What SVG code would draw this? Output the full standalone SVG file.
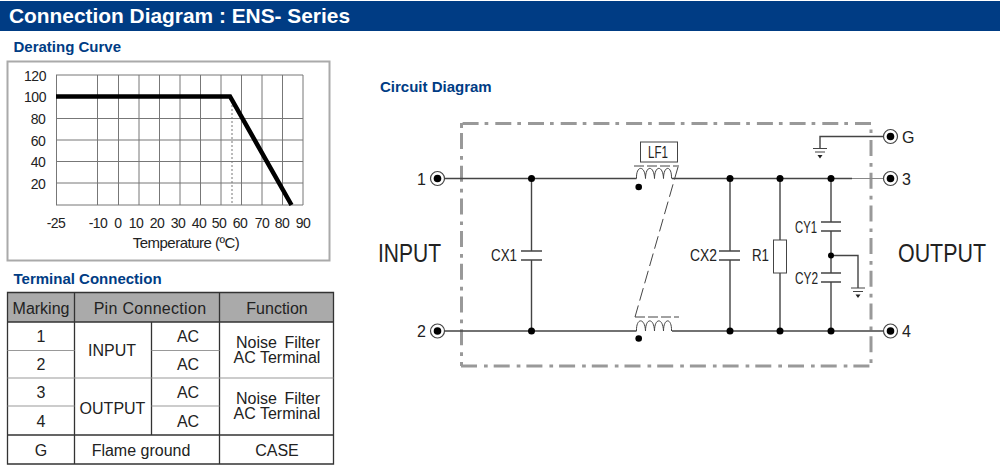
<svg xmlns="http://www.w3.org/2000/svg" width="1000" height="470" viewBox="0 0 1000 470">
<defs>
<style>
text{font-family:"Liberation Sans",Arial,sans-serif;fill:#222}
.h{fill:#003c84;font-weight:bold;font-size:15px}
.g{stroke:#777;stroke-width:1;fill:none}
.w{stroke:#444;stroke-width:1.4;fill:none}
.t{stroke:#444;stroke-width:1;fill:none}
.tb{stroke:#333;stroke-width:1.3;fill:none}
.tl{stroke:#999;stroke-width:1;fill:none}
.tx{font-size:16px;text-anchor:middle;fill:#222}
.ax{font-size:14px;text-anchor:middle;letter-spacing:-.5px}
.lb{font-size:17px}
.big{font-size:25px}
.d{fill:#000}
.en{fill:none;stroke:#999;stroke-width:3;stroke-dasharray:16 7 3.700 6}
</style>
<g id="gnd"><path d="M-7 0H7M-5 3.500H5" stroke="#444" stroke-width="1.200" fill="none"/><path d="M-2.500 6.500H2.500L0 10Z" fill="#222"/></g>
<g id="term"><circle r="7" fill="#fff" stroke="#444" stroke-width="1.200"/><circle r="3.800" fill="#000"/></g>
</defs>
<rect width="1000" height="470" fill="#fff"/>
<g id="header"><rect x="0" y="1" width="1000" height="30" fill="#003c84"/>
<text x="9" y="23" font-size="21" font-weight="bold" style="fill:#fff" textLength="341" lengthAdjust="spacingAndGlyphs">Connection Diagram : ENS- Series</text></g>
<text id="title-derating" class="h" x="13.500" y="52">Derating Curve</text>
<text id="title-terminal" class="h" x="13.500" y="284">Terminal Connection</text>
<text id="title-circuit" class="h" x="380" y="91.500">Circuit Diagram</text>

<g id="chart">
<rect x="7.500" y="61.500" width="322" height="199" fill="#fff" stroke="#aaa" stroke-width="2"/>
<path class="g" d="M56.500 75V205M97.500 75V205M118.500 75V205M139 75V205M159.500 75V205M180 75V205M200.500 75V205M221 75V205M241.500 75V205M262 75V205M282.500 75V205M303 75V205M56 75H303M56 118.500H303M56 140H303M56 161.500H303M56 183H303M56 205H303"/>
<path d="M232 97V205" stroke="#777" stroke-width="1" stroke-dasharray="2 2" fill="none"/>
<path d="M56 96.500H230L291.500 205" stroke="#000" stroke-width="4.500" fill="none"/>
<g class="ax">
<text x="35" y="81">120</text><text x="35" y="102">100</text><text x="38" y="124">80</text><text x="38" y="146">60</text><text x="38" y="167">40</text><text x="38" y="189">20</text>
<text x="56" y="228">-25</text><text x="98" y="228">-10</text><text x="118" y="228">0</text><text x="136" y="228">10</text><text x="157" y="228">20</text><text x="178" y="228">30</text><text x="199" y="228">40</text><text x="219" y="228">50</text><text x="240" y="228">60</text><text x="262" y="228">70</text><text x="282" y="228">80</text><text x="303" y="228">90</text>
<text x="186" y="248" font-size="15">Temperature (ºC)</text>
</g>
</g>

<g id="terminal-table">
<rect x="7.500" y="292.500" width="326" height="29.500" fill="#aaa"/>
<path class="tb" d="M7.500 292.500H333.500V464H7.500ZM74.500 292.500V464M219.500 292.500V464M151.500 322V435M7.500 322H333.500M7.500 435H333.500"/>
<path class="tl" d="M7.500 350.500H74.500M151.500 350.500H219.500M7.500 378H333.500M7.500 406H74.500M151.500 406H219.500"/>
<text class="tx" x="41" y="314">Marking</text><text class="tx" x="150" y="314" letter-spacing=".3">Pin Connection</text><text class="tx" x="277" y="314">Function</text>
<text class="tx" x="41" y="342">1</text><text class="tx" x="41" y="370">2</text><text class="tx" x="41" y="398">3</text><text class="tx" x="41" y="427">4</text><text class="tx" x="41" y="456">G</text>
<text class="tx" x="112" y="356">INPUT</text><text class="tx" x="112.500" y="414">OUTPUT</text>
<text class="tx" x="188" y="342">AC</text><text class="tx" x="188" y="370">AC</text><text class="tx" x="188" y="398">AC</text><text class="tx" x="188" y="427">AC</text>
<text class="tx" x="278" y="348" word-spacing="3">Noise Filter</text><text class="tx" x="277" y="363">AC Terminal</text>
<text class="tx" x="278" y="404" word-spacing="3">Noise Filter</text><text class="tx" x="277" y="419">AC Terminal</text>
<text class="tx" x="141" y="456">Flame ground</text><text class="tx" x="277" y="456">CASE</text>
</g>

<g id="enclosure">
<path class="en" d="M871 123.500H460"/>
<path class="en" d="M461.500 133V366"/>
<path d="M461.500 123V128" fill="none" stroke="#999" stroke-width="3"/>
<path class="en" d="M461 366H871"/>
<path class="en" d="M871 140V366"/>
<path d="M871 129.500V133" fill="none" stroke="#999" stroke-width="3"/>
</g>

<g id="connectors">
<path class="w" d="M444 178.500H636.500M672 178.500H852M444 331H636.500M672 331H884"/>
<path d="M852 178.500H884" stroke="#888" stroke-width="1"/>
<path class="w" d="M531.500 178.500V251M531.500 260V331M730 178.500V251M730 260V331M780 178.500V240M780 273V331M831 178.500V222M831 231V273M831 282V331"/>
<path class="w" d="M884 136.500H820V148M831 255.500H858V288"/>
<path d="M678 167L635 317" stroke="#444" stroke-width="1" stroke-dasharray="13 5" fill="none"/>
</g>

<g id="LF1">
<rect x="640.500" y="142" width="37" height="20" fill="#fff" stroke="#444" stroke-width="1"/>
<text class="lb" x="648" y="158" textLength="20" lengthAdjust="spacingAndGlyphs">LF1</text>
<path d="M634 166H679" stroke="#444" stroke-width="1" stroke-dasharray="10 3"/>
<path class="t" d="M636.500 178.500C636 165 645 165 645.500 178.500C645.500 165 654 165 654.500 178.500C654.500 165 663 165 663.500 178.500C663.500 165 672 165 671.500 178.500"/>
<circle class="d" cx="638.700" cy="187" r="3.300"/>
</g>
<g id="LF1-lower">
<path d="M635 317H679" stroke="#444" stroke-width="1" stroke-dasharray="10 3"/>
<path class="t" d="M636.500 331C636 317.500 645 317.500 645.500 331C645.500 317.500 654 317.500 654.500 331C654.500 317.500 663 317.500 663.500 331C663.500 317.500 672 317.500 671.500 331"/>
<circle class="d" cx="638.700" cy="338.500" r="3.300"/>
</g>

<g id="CX1"><path class="w" d="M521 251H542M521 260H542"/><text class="lb" x="491" y="261" textLength="26" lengthAdjust="spacingAndGlyphs">CX1</text></g>
<g id="CX2"><path class="w" d="M719 251H740M719 260H740"/><text class="lb" x="690" y="261" textLength="27" lengthAdjust="spacingAndGlyphs">CX2</text></g>
<g id="R1"><rect x="773.500" y="240" width="13" height="33" fill="#fff" stroke="#444" stroke-width="1"/><text class="lb" x="752" y="261" textLength="17" lengthAdjust="spacingAndGlyphs">R1</text></g>
<g id="CY1"><path class="w" d="M821 222H841M821 231H841"/><text class="lb" x="795" y="233" textLength="22" lengthAdjust="spacingAndGlyphs">CY1</text></g>
<g id="CY2"><path class="w" d="M821 273H841M821 282H841"/><text class="lb" x="795" y="284" textLength="23" lengthAdjust="spacingAndGlyphs">CY2</text></g>

<g id="junctions">
<circle class="d" cx="531.500" cy="178.500" r="3.500"/><circle class="d" cx="531.500" cy="331" r="3.500"/>
<circle class="d" cx="730" cy="178.500" r="3.500"/><circle class="d" cx="780" cy="178.500" r="3.500"/><circle class="d" cx="831" cy="178.500" r="3.500"/>
<circle class="d" cx="730" cy="331" r="3.500"/><circle class="d" cx="780" cy="331" r="3.500"/><circle class="d" cx="831" cy="331" r="3.500"/>
<circle class="d" cx="831" cy="255.500" r="3"/>
</g>

<g id="ground-1"><use href="#gnd" x="820" y="148.500"/></g>
<g id="ground-2"><use href="#gnd" x="858" y="288"/></g>

<g id="terminal-1"><use href="#term" x="437.500" y="178.500"/><text x="417" y="185" font-size="16">1</text></g>
<g id="terminal-2"><use href="#term" x="437.500" y="331"/><text x="417" y="337" font-size="16">2</text></g>
<g id="terminal-G"><use href="#term" x="890.500" y="136.500"/><text x="902" y="143" font-size="16">G</text></g>
<g id="terminal-3"><use href="#term" x="890.500" y="178.500"/><text x="902" y="185" font-size="16">3</text></g>
<g id="terminal-4"><use href="#term" x="890.500" y="331"/><text x="902" y="337" font-size="16">4</text></g>

<text id="label-input" class="big" x="378" y="262" textLength="63" lengthAdjust="spacingAndGlyphs">INPUT</text>
<text id="label-output" class="big" x="898" y="262" textLength="88" lengthAdjust="spacingAndGlyphs">OUTPUT</text>
</svg>
